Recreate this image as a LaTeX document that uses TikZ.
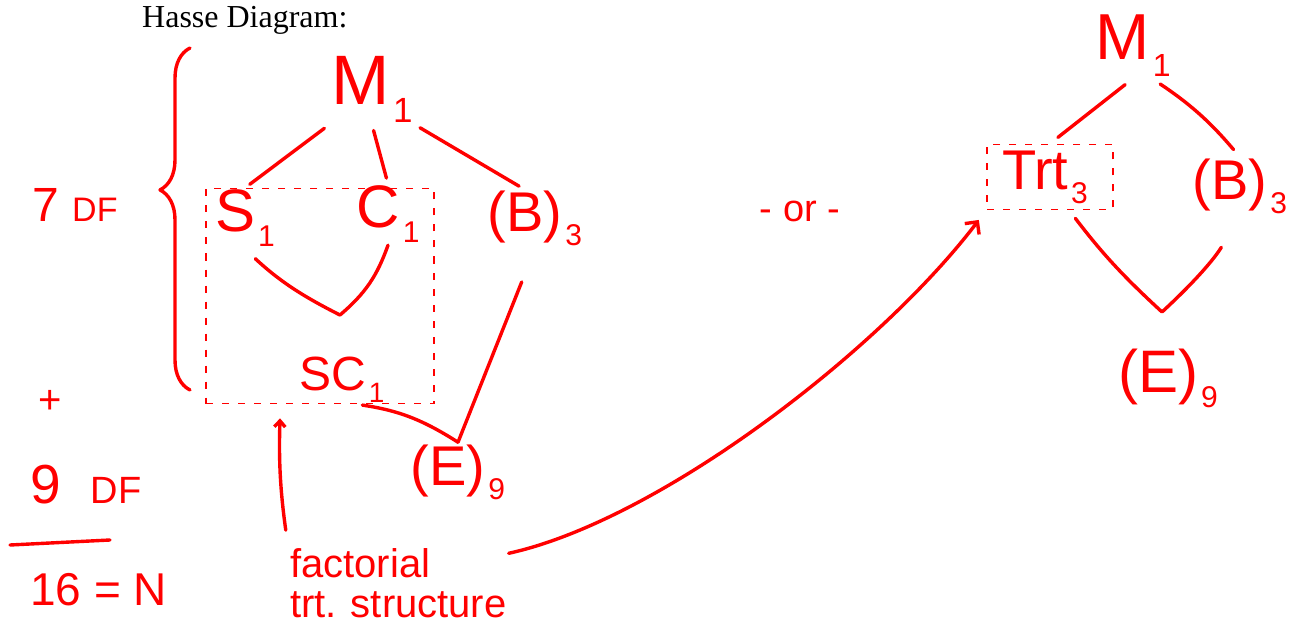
\documentclass[tikz,border=0pt]{standalone}
\usepackage{fontspec}
\setmainfont{Liberation Serif}
\newfontfamily\handfont{Liberation Sans}
\usetikzlibrary{positioning,calc,arrows.meta,decorations.pathreplacing}
\definecolor{ink}{RGB}{255,0,0}
\newcommand{\lowidx}[2][30]{\hspace{0.05em}\raisebox{-0.25em}{\fontsize{#1}{#1}\selectfont #2}}

\begin{document}
\begin{tikzpicture}[
    x=1pt, y=-1pt,
    pen/.style={draw=ink, line width=3.4pt, line cap=round, line join=round},
    link/.style={pen, shorten <=#1, shorten >=#1},
    link/.default=6pt,
    hw/.style={text=ink, inner sep=2pt, anchor=base, font=\handfont\fontsize{#1}{#1}\selectfont},
    hw/.default=56,
    dashbox/.style={draw=ink, line width=1.8pt, dash pattern=on 7pt off 9pt, inner sep=0pt}
]
\useasboundingbox (0,0) rectangle (1292,628);

% Title
\node[anchor=base west, inner sep=0pt, font=\fontsize{32}{32}\selectfont] (title) at (142,28) {Hasse Diagram:};

% Left diagram
\node[hw=70] (mleft) at (372,105) {M\lowidx[35]{1}};
\node[hw=60] (sleft) at (245,232) {S\lowidx{1}};
\node[hw=60] (cleft) at (388,228) {C\lowidx{1}};
\node[hw=48] (scleft) at (342,390) {SC\lowidx[28]{1}};
\node[hw] (bleft) at (535,232) {(B)\lowidx{3}};
\node[hw] (eleft) at (458,485) {(E)\lowidx{9}};
\node[dashbox, minimum width=228, minimum height=215] (factbox) at (320,296) {};
\coordinate (veeleft) at (340,315);

\draw[link] (mleft.south west) -- (sleft.north);
\draw[link] (mleft.south) -- (cleft.north);
\draw[link] (mleft.south east) -- (bleft.110);
\draw[pen, shorten <=14pt] (sleft.south) to[bend right=8] (veeleft) to[bend right=15] (cleft.south);
\draw[pen, shorten <=36pt] (bleft.south) -- (eleft.north);
\draw[pen, shorten <=6pt] (scleft.-60) to[bend left=12] (eleft.north);

% Degrees of freedom
\node[hw=48, anchor=base west] (df7) at (30,222) {7 {\fontsize{34}{34}\selectfont DF}};
\draw[pen, decorate, decoration={brace, amplitude=30pt, aspect=0.585}] (190,390) -- (190,48);
\node[hw=40, anchor=center] (plus) at (50,402) {+};
\node[hw=55, anchor=base west] (df9) at (28,503) {9\hspace{30pt}{\fontsize{38}{38}\selectfont DF}};
\draw[pen] (10,545) -- (110,540);
\node[hw=46, anchor=base west] (total) at (28,605) {16 = N};

% Factorial structure note
\node[hw=40, anchor=north west, align=left, font=\handfont\fontsize{40}{40}\selectfont] (factlabel) at (288,546) {factorial\\trt.\hspace{14pt}structure};
\draw[pen, -{Straight Barb[length=6pt, width=11pt]}, shorten <=16pt, shorten >=14pt] (factlabel.north west) to[bend left=5] (factbox.250);

\node[hw=38] (ortext) at (800,222) {- or -};

% Right diagram
\node[hw=65] (mright) at (1133,60) {M\lowidx[32]{1}};
\node[hw] (trtright) at (1045,190) {Trt\lowidx{3}};
\node[dashbox, minimum width=126, minimum height=65] (trtbox) at (1050,177) {};
\node[hw] (bright) at (1240,200) {(B)\lowidx{3}};
\node[hw=60] (eright) at (1168,392) {(E)\lowidx{9}};
\coordinate (veeright) at (1162,312);

\draw[link=10pt] (mright.south) -- (trtbox.north);
\draw[link=10pt] (mright.-60) to[bend left=8] (bright.north);
\draw[pen, shorten <=10pt, shorten >=36pt] (trtbox.-60) to[bend right=5] (veeright) to[bend right=8] (bright.south);

\draw[pen, -{Straight Barb[length=9pt, width=18pt]}, shorten >=12pt] (factlabel.15) .. controls (660,520) and (880,350) .. (trtbox.south west);

\end{tikzpicture}
\end{document}
